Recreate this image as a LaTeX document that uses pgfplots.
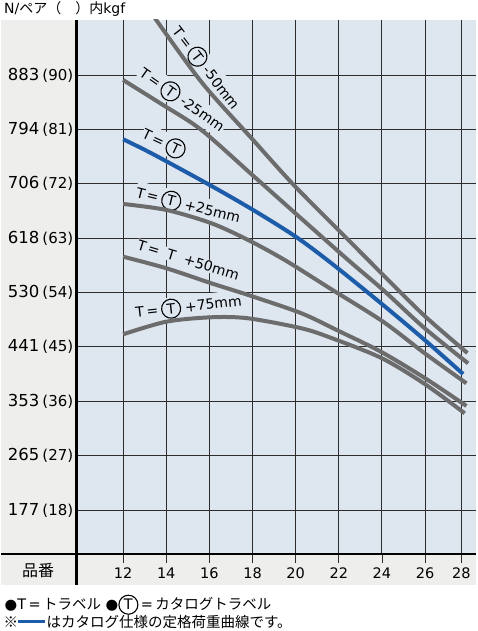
\documentclass[border=0pt]{standalone}
\usepackage{pgfplots}
\pgfplotsset{compat=1.18}
\usepackage{fontspec}
\setmainfont{DejaVu Sans}
\newfontfamily\cjk{Noto Sans CJK JP}
\definecolor{plotbg}{RGB}{222,230,240}
\definecolor{panel}{RGB}{238,239,237}
\definecolor{curvegray}{RGB}{108,108,108}
\definecolor{curveblue}{RGB}{28,92,168}
\definecolor{gridc}{RGB}{45,45,45}
\newcommand{\fs}[1]{\fontsize{#1}{#1}\selectfont}
\newcommand{\circT}{\tikz[baseline=(c.base)]\node[draw,circle,line width=1.1pt,inner sep=0pt,minimum size=19pt](c){T};}
\newcommand{\lab}[1]{T\,=\hspace{3pt}\circT\hspace{4pt}#1}
\newcommand{\yl}[2]{#1\hspace{3pt}{\fs{15}(#2)}}
\tikzset{lbl/.style={fill=plotbg, inner sep=1pt, font=\fs{14}}}
\begin{document}
\begin{tikzpicture}
\fill[white] (0pt,0pt) rectangle (475pt,631pt);
\fill[panel] (0pt,46pt) rectangle (75pt,611pt);
\fill[panel] (0pt,46pt) rectangle (475pt,77pt);
\fill[plotbg] (75pt,77pt) rectangle (475pt,611pt);
\begin{axis}[
  at={(75pt,77pt)}, anchor=south west,
  scale only axis, width=400pt, height=534pt,
  xmin=9.835, xmax=28.379, ymin=10.72, ymax=99.10,
  axis line style={draw=none},
  xtick={12,14,16,18,20,22,24,26,27.684},
  xticklabels={12,14,16,18,20,22,24,26,28},
  ytick={18,27,36,45,54,63,72,81,90},
  yticklabels={\yl{177}{18},\yl{265}{27},\yl{353}{36},\yl{441}{45},\yl{530}{54},\yl{618}{63},\yl{706}{72},\yl{794}{81},\yl{883}{90}},
  major tick length=0pt,
  grid=major, grid style={gridc, line width=0.9pt},
  xticklabel style={anchor=north, inner sep=0pt, yshift=-14pt, font=\fs{14.5}},
  yticklabel style={anchor=east, inner sep=0pt, xshift=-3pt, font=\fs{16.5}},
  /pgf/number format/assume math mode=true,
  clip=true,
]
\node[lbl, rotate=-52.5, xshift=6.5pt, yshift=3.5pt] at (axis cs:15.537,91.655) {\lab{-50mm}};
\node[lbl, rotate=-35, xshift=2pt, yshift=2.8pt] at (axis cs:14.587,85.746) {\lab{-25mm}};
\node[lbl, rotate=-25, xshift=0.5pt, yshift=1pt] at (axis cs:13.854,78.63) {T\,=\hspace{3pt}\circT};
\node[lbl, rotate=-14, yshift=1pt] at (axis cs:15.013,68.32) {\lab{+25mm}};
\node[lbl, rotate=-17, yshift=1pt] at (axis cs:15.013,59.22) {T\,=\hspace{3pt}\makebox[19pt]{T}\hspace{4pt}+50mm};
\node[lbl, rotate=6.5, yshift=1pt] at (axis cs:15.041,51.49) {\lab{+75mm}};
% T = (T) -50mm
\addplot[curvegray, line width=4pt, smooth] coordinates {
(13.30,100.3) (15.630,88.84) (18.027,79.24) (19.955,71.63) (22.584,62.19) (24.054,56.90) (25.982,50.11) (27.962,43.99)};
% T = (T) -25mm
\addplot[curvegray, line width=4pt, smooth] coordinates {
(12,89.17) (13.776,85.20) (15.630,80.90) (18.027,73.33) (19.955,67.21) (22.431,59.38) (24.054,54.42) (25.982,48.08) (27.995,42.28)};
% T = (T) +25mm
\addplot[curvegray, line width=4pt, smooth] coordinates {
(12,68.65) (14.007,67.66) (16.094,65.46) (17.795,62.69) (19.492,59.38) (21.657,54.53) (24.054,49.17) (25.982,43.94) (27.916,38.97)};
% T = T +50mm
\addplot[curvegray, line width=4pt, smooth] coordinates {
(12,59.93) (14.007,58.01) (16.094,55.52) (17.795,53.59) (20.266,50.56) (22.042,47.55) (23.975,44.15) (25.982,39.85) (27.916,35.22)};
% T = (T) +75mm
\addplot[curvegray, line width=4pt, smooth] coordinates {
(12,47.08) (14.007,49.17) (16.094,49.90) (17.795,49.73) (20.266,48.08) (21.657,46.47) (23.975,43.16) (25.982,38.86) (27.837,34.01)};
% catalog rated load (blue)
\addplot[curveblue, line width=4pt, smooth] coordinates {
(12,79.36) (13.312,77.04) (16.015,71.79) (18.027,67.66) (20.002,63.24) (21.657,58.84) (24.054,51.93) (25.982,46.14) (27.763,40.51)};
\end{axis}
\foreach \t in {121.7,164.8,208,251.1,294.3,337.4,380.6,423.7,460}{\draw[gridc,line width=0.9pt] (\t pt,77pt) -- (\t pt,68pt);}
\draw[black,line width=2.8pt] (0pt,77pt) -- (475pt,77pt);
\draw[black,line width=2.8pt] (75pt,46pt) -- (75pt,611pt);
\node[anchor=base west, inner sep=0pt, font=\fs{14}] at (2.5pt,617.7pt) {N/{\cjk ペア（　）内}kgf};
\node[inner sep=0pt, font=\fs{16}] at (36.7pt,60.5pt) {\cjk 品番};
\node[anchor=base west, inner sep=0pt, font=\fs{14.5}] at (3pt,21pt) {●T\,=\,{\cjk トラベル} ●\circT\,=\,{\cjk カタログトラベル}};
\node[anchor=base west, inner sep=0pt, font=\fs{14.5}] at (2pt,4pt) {\cjk ※};
\fill[curveblue] (16.7pt,8pt) rectangle (43.3pt,11pt);
\node[anchor=base west, inner sep=0pt, font=\fs{14.5}] at (45pt,4pt) {\cjk はカタログ仕様の定格荷重曲線です。};
\end{tikzpicture}
\end{document}
